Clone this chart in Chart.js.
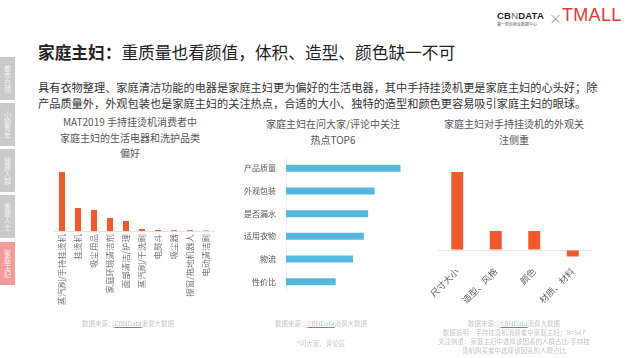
<!DOCTYPE html>
<html><head><meta charset="utf-8">
<script src="https://cdn.jsdelivr.net/npm/chart.js@4"></script>
<style>
body{margin:0;width:640px;height:358px;background:#fff;position:relative;overflow:hidden;font-family:"Noto Sans CJK SC","Noto Sans",sans-serif;color:#333;}
.abs{position:absolute;white-space:nowrap;}
.tab{position:absolute;left:0;width:15px;height:43px;background:#cacaca;color:#f4f4f4;font-size:7px;line-height:8px;writing-mode:vertical-rl;text-orientation:upright;display:flex;align-items:center;justify-content:center;}
.ct{position:absolute;text-align:center;font-size:10px;line-height:15.5px;color:#555;}
.src{position:absolute;text-align:center;font-size:6.5px;line-height:9px;color:#c4c4c4;white-space:nowrap;}
.src u{text-decoration-color:#e05a5a;}
canvas{position:absolute;}
</style></head><body>
<!-- logo -->
<div class="abs" style="left:497px;top:10px;font-size:9.5px;font-weight:700;color:#222;letter-spacing:0.2px;font-family:'Liberation Sans',sans-serif;">CB<span style="font-weight:400;color:#666">N</span>DATA</div>
<div class="abs" style="left:497px;top:21px;font-size:4px;color:#555;">第一财经商业数据中心</div>
<div class="abs" style="left:549px;top:8px;font-size:13px;color:#999;">×</div>
<div class="abs" style="left:562px;top:5px;font-size:18px;color:#e23a35;letter-spacing:0.3px;font-family:'Liberation Sans',sans-serif;">TMALL</div>

<!-- left nav -->
<div class="tab" style="top:57px;">都市白领</div>
<div class="tab" style="top:103px;">小镇青年</div>
<div class="tab" style="top:149px;">独居人群</div>
<div class="tab" style="top:195px;">差旅人士</div>
<div class="tab" style="top:242px;background:#f59a9a;">家庭主妇</div>

<!-- title -->
<div class="abs" style="left:38px;top:40px;font-size:16.7px;color:#222;"><b>家庭主妇：</b>重质量也看颜值，体积、造型、颜色缺一不可</div>
<div class="abs" style="left:38px;top:79px;font-size:11.2px;line-height:16px;color:#333;">具有衣物整理、家庭清洁功能的电器是家庭主妇更为偏好的生活电器，其中手持挂烫机更是家庭主妇的心头好；除<br>产品质量外，外观包装也是家庭主妇的关注热点，合适的大小、独特的造型和颜色更容易吸引家庭主妇的眼球。</div>

<!-- chart titles -->
<div class="ct" style="left:50px;top:114px;width:160px;">MAT2019 手持挂烫机消费者中<br>家庭主妇的生活电器和洗护品类<br>偏好</div>
<div class="ct" style="left:253px;top:116px;width:160px;">家庭主妇在问大家/评论中关注<br>热点TOP6</div>
<div class="ct" style="left:434px;top:116px;width:160px;">家庭主妇对手持挂烫机的外观关<br>注侧重</div>

<canvas id="c1" width="200" height="165" style="left:34px;top:160px;"></canvas>
<canvas id="c2" width="200" height="136" style="left:220px;top:157px;"></canvas>
<canvas id="c3" width="210" height="148" style="left:410px;top:165px;"></canvas>

<!-- sources -->
<div class="src" style="left:48px;top:319px;width:160px;">数据来源：<u>CBNData</u>消费大数据</div>
<div class="src" style="left:241px;top:319px;width:160px;">数据来源：<u>CBNData</u>消费大数据</div>
<div class="src" style="left:241px;top:339px;width:160px;">*问大家、评论区</div>
<div class="src" style="left:414px;top:319px;width:200px;">数据来源：<u>CBNData</u>消费大数据<br>数据说明：手持挂烫机消费者中家庭主妇；N=547<br>关注侧重：家庭主妇中选择该因素的人群占比-手持挂<br>烫机购买者中选择该因素的人群占比</div>

<script>
// ---- data ----
const prefCategories = ['蒸汽刷/手持挂烫机','挂烫机','吸尘用品','家庭环境清洁剂','面部清洁/护理','蒸汽刷/干洗刷','电熨斗','吸尘器','擦窗/拖地机器人','电动清洁刷'];
const prefValues = [59, 23, 21, 13, 10, 2, 1, 0.8, 0.8, 0.5];

const topicCategories = ['产品质量','外观包装','是否漏水','适用衣物','物流','性价比'];
const topicValues = [106, 82, 76, 72, 62, 46];

const lookCategories = ['尺寸大小','造型、风格','颜色','材质、材料'];
const lookValues = [78, 19, 19, -6.5];

const ORANGE = '#ee5a2b';
const BLUE = '#55b7de';
const FONT = "'Noto Sans CJK SC', sans-serif";

function zeroPad(axis){ axis.paddingLeft = 0; axis.paddingRight = 0; axis.paddingTop = 0; axis.paddingBottom = 0; }

// chart 1
new Chart(document.getElementById('c1'), {
  type: 'bar',
  data: { labels: prefCategories, datasets: [{ data: prefValues, backgroundColor: ORANGE, barPercentage: 0.38, categoryPercentage: 1 }] },
  options: {
    responsive: false, animation: false,
    layout: { padding: { left: 20, right: 20, top: 0, bottom: 0 } },
    plugins: { legend: { display: false }, tooltip: { enabled: false } },
    scales: {
      x: {
        grid: { display: false, drawTicks: false },
        border: { display: true, color: '#e2e2e2' },
        ticks: { minRotation: 90, maxRotation: 90, autoSkip: false, padding: 3, color: '#777', font: { family: FONT, size: 8.5 } },
        afterFit: (a) => { a.height = 94; zeroPad(a); }
      },
      y: { display: false, min: 0, max: 71 }
    }
  }
});

// chart 2
new Chart(document.getElementById('c2'), {
  type: 'bar',
  data: { labels: topicCategories, datasets: [{ data: topicValues, backgroundColor: BLUE, barPercentage: 0.31, categoryPercentage: 1 }] },
  options: {
    indexAxis: 'y', responsive: false, animation: false,
    layout: { padding: 0 },
    plugins: { legend: { display: false }, tooltip: { enabled: false } },
    scales: {
      y: {
        grid: { display: false, drawTicks: false },
        border: { display: true, color: '#f0f0f0' },
        ticks: { padding: 10, color: '#555', font: { family: FONT, size: 8 } },
        afterFit: (a) => { a.width = 66; zeroPad(a); }
      },
      x: { display: false, min: 0, max: 124 }
    }
  }
});

// chart 3
new Chart(document.getElementById('c3'), {
  type: 'bar',
  data: { labels: lookCategories, datasets: [{ data: lookValues, backgroundColor: ORANGE, barPercentage: 0.31, categoryPercentage: 1 }] },
  options: {
    responsive: false, animation: false,
    layout: { padding: { left: 28, right: 28, top: 0, bottom: 0 } },
    plugins: { legend: { display: false }, tooltip: { enabled: false } },
    scales: {
      x: {
        grid: { display: false, drawTicks: false },
        border: { display: false },
        ticks: { minRotation: 45, maxRotation: 45, autoSkip: false, padding: 8, color: '#666', font: { family: FONT, size: 9 } },
        afterFit: (a) => { a.height = 55; zeroPad(a); }
      },
      y: {
        min: -8, max: 85,
        grid: { drawTicks: false, color: (c) => (c.tick && c.tick.value === 0) ? '#e5e5e5' : 'rgba(0,0,0,0)' },
        border: { display: false },
        ticks: { display: false },
        afterBuildTicks: (a) => { a.ticks = [{ value: 0 }]; },
        afterFit: (a) => { a.width = 0; zeroPad(a); }
      }
    }
  }
});
</script>
</body></html>
